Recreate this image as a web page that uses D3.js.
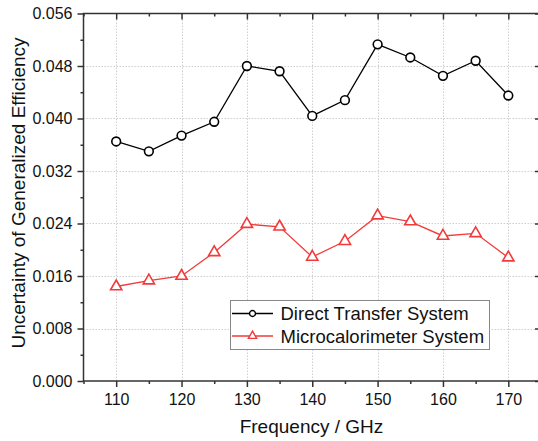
<!DOCTYPE html>
<html>
<head>
<meta charset="utf-8">
<script src="https://cdn.jsdelivr.net/npm/d3@7"></script>
<style>
  html, body { margin: 0; padding: 0; background: #fff; }
  svg { display: block; font-family: "Liberation Sans", Arial, sans-serif; }
</style>
</head>
<body>
<svg id="chart" width="538" height="441"></svg>
<script>
const frequencies = [110, 115, 120, 125, 130, 135, 140, 145, 150, 155, 160, 165, 170];
const directTransfer = [0.0365, 0.0350, 0.0374, 0.0395, 0.0480, 0.0472, 0.0404, 0.0428, 0.0513, 0.0493, 0.0465, 0.0488, 0.0435];
const microcalorimeter = [0.0144, 0.0153, 0.0160, 0.0196, 0.0239, 0.0235, 0.0189, 0.0213, 0.0252, 0.0243, 0.0221, 0.0225, 0.0188];
const seriesNames = ["Direct Transfer System", "Microcalorimeter System"];
const xTicks = [110, 120, 130, 140, 150, 160, 170];
const yTicks = [0.000, 0.008, 0.016, 0.024, 0.032, 0.040, 0.048, 0.056];
const xTitle = "Frequency / GHz";
const yTitle = "Uncertainty of Generalized Efficiency";

const svg = d3.select("#chart");
const L = 83.5, R = 541, T = 13.5, B = 381;
const x = d3.scaleLinear().domain([105, 175]).range([L, R]);
const y = d3.scaleLinear().domain([0, 0.056]).range([B, T]);

const axisColor = "#333";
const xMinor = d3.range(105, 176, 5);
const yMinor = d3.range(0, 0.0561, 0.004);

// grid
const grid = svg.append("g").attr("stroke", "#cfcfcf").attr("stroke-width", 1).attr("stroke-dasharray", "1.5,1.5");
grid.selectAll("line.gx").data(xTicks).enter().append("line")
  .attr("x1", d => Math.round(x(d)) + 0.5).attr("x2", d => Math.round(x(d)) + 0.5)
  .attr("y1", T).attr("y2", B);
grid.selectAll("line.gy").data(yTicks.slice(1, -1)).enter().append("line")
  .attr("y1", d => Math.round(y(d)) + 0.5).attr("y2", d => Math.round(y(d)) + 0.5)
  .attr("x1", L).attr("x2", R);

// axes
function styleAxis(g) {
  g.select(".domain").remove();
  g.selectAll(".tick line").attr("stroke", axisColor).attr("stroke-width", 1.5);
  g.selectAll(".tick text").attr("fill", "#111").attr("font-size", 16)
    .attr("font-family", "Liberation Sans, Arial, sans-serif");
}
// bottom
const gxB = svg.append("g").attr("transform", `translate(0,${B})`)
  .call(d3.axisBottom(x).tickValues(xTicks).tickFormat(d3.format("d")).tickSize(6).tickPadding(7));
styleAxis(gxB);
const gxBm = svg.append("g").attr("transform", `translate(0,${B})`)
  .call(d3.axisBottom(x).tickValues(xMinor.filter(v => v % 10 !== 0)).tickFormat("").tickSize(3));
styleAxis(gxBm);
// top (inward)
const gxT = svg.append("g").attr("transform", `translate(0,${T})`)
  .call(d3.axisBottom(x).tickValues(xTicks).tickFormat("").tickSize(6));
styleAxis(gxT);
const gxTm = svg.append("g").attr("transform", `translate(0,${T})`)
  .call(d3.axisBottom(x).tickValues(xMinor.filter(v => v % 10 !== 0)).tickFormat("").tickSize(3));
styleAxis(gxTm);
// left
const gyL = svg.append("g").attr("transform", `translate(${L},0)`)
  .call(d3.axisLeft(y).tickValues(yTicks).tickFormat(d3.format(".3f")).tickSize(6).tickPadding(5));
styleAxis(gyL);
const gyLm = svg.append("g").attr("transform", `translate(${L},0)`)
  .call(d3.axisLeft(y).tickValues(yMinor.filter((v, i) => i % 2 === 1)).tickFormat("").tickSize(3));
styleAxis(gyLm);
// right (inward)
const gyR = svg.append("g").attr("transform", `translate(${R},0)`)
  .call(d3.axisLeft(y).tickValues(yTicks).tickFormat("").tickSize(6));
styleAxis(gyR);
const gyRm = svg.append("g").attr("transform", `translate(${R},0)`)
  .call(d3.axisLeft(y).tickValues(yMinor.filter((v, i) => i % 2 === 1)).tickFormat("").tickSize(3));
styleAxis(gyRm);

// frame
svg.append("rect").attr("x", L).attr("y", T).attr("width", R - L).attr("height", B - T)
  .attr("fill", "none").attr("stroke", axisColor).attr("stroke-width", 1.5);

// titles
svg.append("text").attr("x", 311.5).attr("y", 433).attr("text-anchor", "middle")
  .attr("font-size", 19).attr("fill", "#111").text(xTitle);
svg.append("text").attr("transform", "translate(25,193) rotate(-90)").attr("text-anchor", "middle")
  .attr("font-size", 19).attr("fill", "#111").text(yTitle);

// series
const colors = ["#000000", "#f23a3a"];
const datasets = [directTransfer, microcalorimeter];
const symbols = [d3.symbolCircle, d3.symbolTriangle];
const sizes = [60, 55];
const line = d3.line().x(d => x(d[0])).y(d => y(d[1]));
datasets.forEach((vals, si) => {
  const pts = frequencies.map((f, i) => [f, vals[i]]);
  svg.append("path").attr("d", line(pts)).attr("fill", "none")
    .attr("stroke", colors[si]).attr("stroke-width", 1.3);
  svg.selectAll(null).data(pts).enter().append("path")
    .attr("d", d3.symbol().type(symbols[si]).size(sizes[si]))
    .attr("transform", d => `translate(${x(d[0])},${y(d[1])})`)
    .attr("fill", "#fff").attr("stroke", colors[si]).attr("stroke-width", 1.6);
});

// legend
const lg = svg.append("g");
lg.append("rect").attr("x", 230.5).attr("y", 300.5).attr("width", 259).attr("height", 49)
  .attr("fill", "#fff").attr("stroke", "#888").attr("stroke-width", 1);
seriesNames.forEach((name, i) => {
  const cy = 313.5 + i * 22.5;
  lg.append("line").attr("x1", 232).attr("x2", 273).attr("y1", cy).attr("y2", cy)
    .attr("stroke", colors[i]).attr("stroke-width", 1.3);
  lg.append("path").attr("d", d3.symbol().type(symbols[i]).size(i === 0 ? 28 : 30))
    .attr("transform", `translate(252.5,${cy})`)
    .attr("fill", "#fff").attr("stroke", colors[i]).attr("stroke-width", 1.4);
  lg.append("text").attr("x", 280.5).attr("y", cy + 6.5).attr("font-size", 18.5)
    .attr("fill", "#111").text(name);
});
</script>
</body>
</html>
